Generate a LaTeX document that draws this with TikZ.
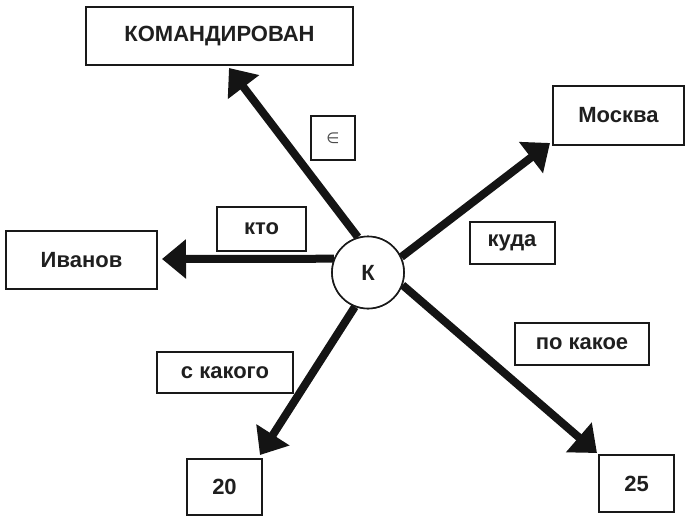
\documentclass[tikz,border=0pt]{standalone}
\usepackage{fontspec}
\setmainfont{Liberation Sans}
\newfontfamily\symfont{DejaVu Sans}
\usetikzlibrary{arrows.meta}
\begin{document}
\begin{tikzpicture}[x=1pt,y=-1pt,
  box/.style={draw=black!90,line width=2pt,inner sep=0pt,outer sep=0pt,
    font=\fontsize{22}{25}\selectfont\bfseries,text=black!88},
  hub/.style={circle,draw=black!90,line width=1.6pt,fill=white,minimum size=72pt,
    inner sep=0pt,font=\fontsize{22}{25}\selectfont\bfseries,text=black!88},
  link/.style={line width=8pt,draw=black!92,
    -{Triangle[length=24pt,width=38pt]}}]
\useasboundingbox (0,0) rectangle (686,517);

% concept nodes
\node[box,minimum width=267pt,minimum height=58pt] (kom) at (219.5,36) {КОМАНДИРОВАН};
\node[box,minimum width=131pt,minimum height=59pt] (msk) at (618.5,115.5) {Москва};
\node[box,minimum width=151pt,minimum height=58pt] (iv) at (81.5,260) {Иванов};
\node[box,minimum width=75pt,minimum height=56pt] (d20) at (224.5,487) {20};
\node[box,minimum width=75pt,minimum height=57pt] (d25) at (636.5,483.5) {25};

% relation labels
\node[box,minimum width=89pt,minimum height=44pt] (kto) at (261.5,229) {кто};
\node[box,minimum width=44pt,minimum height=44pt,
  font=\symfont\fontsize{15}{17}\selectfont,text=black!70] (el) at (333,138) {∈};
\node[box,minimum width=85pt,minimum height=42pt] (kuda) at (512,243) {куда};
\node[box,minimum width=134pt,minimum height=42pt] (pok) at (582,344) {по какое};
\node[box,minimum width=136pt,minimum height=41pt] (sk) at (225,372.5) {с какого};

% arrow tip points
\coordinate (tkom) at (229,68);
\coordinate (tmsk) at (550,143);
\coordinate (tiv) at (162,259);
\coordinate (t20) at (260,455);
\coordinate (t25) at (597,453);

% arrows from the hub
\node[hub] (k) at (368,272.5) {К};
\draw[link] (k.106) -- (tkom);
\draw[link] (k.25) -- (tmsk);
\draw[link] (k.158) -- (tiv);
\draw[link] (k.-111) -- (t20);
\draw[link] (k.-20) -- (t25);
\node[hub] at (k) {К};
\end{tikzpicture}
\end{document}
